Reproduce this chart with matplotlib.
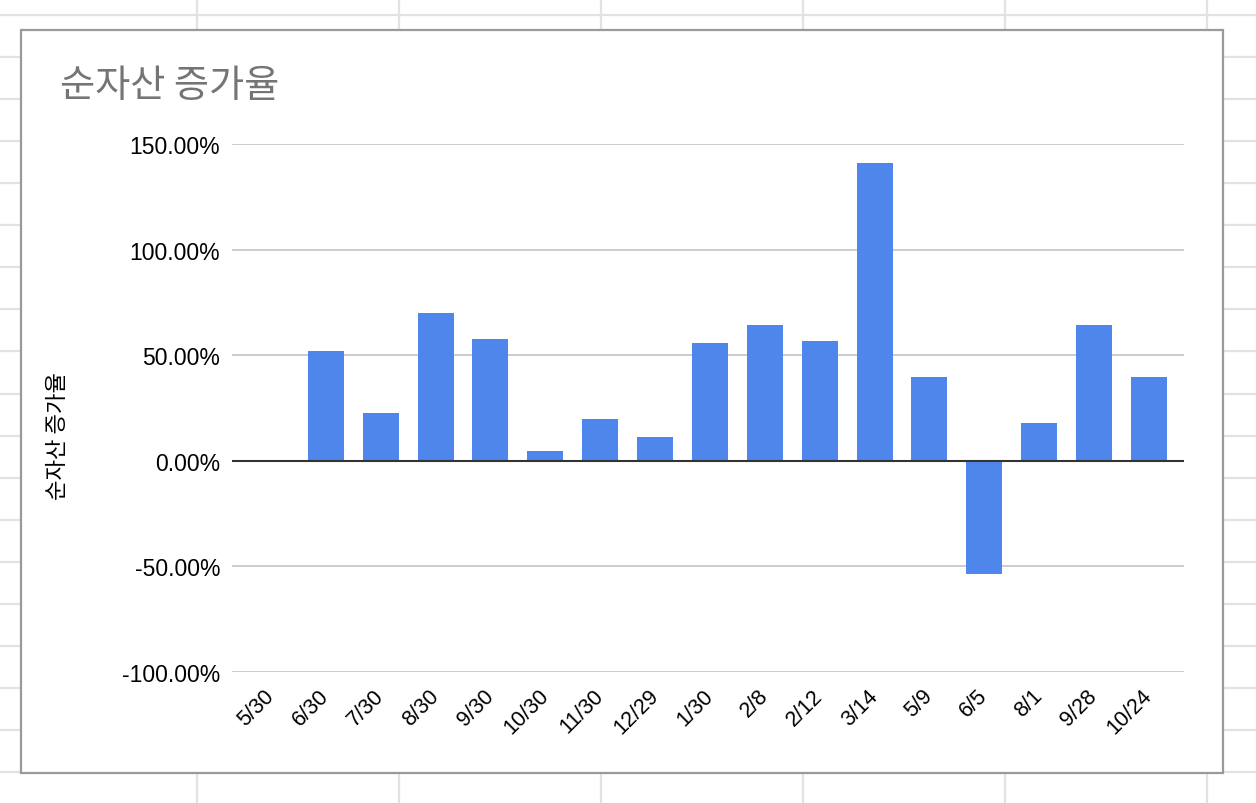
import numpy as np
import matplotlib
matplotlib.use("Agg")
import matplotlib.pyplot as plt
from matplotlib.lines import Line2D
from matplotlib.patches import Rectangle
from matplotlib.transforms import ScaledTranslation

# -------------------------
# Data
# -------------------------
dates = ["5/30", "6/30", "7/30", "8/30", "9/30", "10/30", "11/30", "12/29",
         "1/30", "2/8", "2/12", "3/14", "5/9", "6/5", "8/1", "9/28", "10/24"]
growth = [0.0, 52.1, 22.7, 70.0, 57.7, 4.7, 19.9, 11.4,
          55.8, 64.4, 56.8, 141.0, 39.8, -53.5, 18.0, 64.4, 39.8]
y_ticks = [-100, -50, 0, 50, 100, 150]

title = "순자산 증가율"

W, H = 1256, 804
plt.rcParams['font.family'] = ['Liberation Sans', 'Noto Sans CJK KR', 'DejaVu Sans']
fig = plt.figure(figsize=(W / 100, H / 100), dpi=100)
fig.patch.set_facecolor("white")

# -------------------------
# spreadsheet cells behind the chart
# -------------------------
for gx in np.arange(197, W, 202):
    fig.add_artist(Line2D([gx / W, gx / W], [0, 1], color="#e2e2e2", lw=1.6, zorder=0))
for gy in np.arange(16, H, 42.06):
    fig.add_artist(Line2D([0, 1], [1 - gy / H, 1 - gy / H], color="#e2e2e2", lw=1.6, zorder=0))

# chart panel
x0, y0, x1, y1 = 21, 31, 1223, 774
fig.add_artist(Rectangle((x0 / W, 1 - y1 / H), (x1 - x0) / W, (y1 - y0) / H,
                         facecolor="white", edgecolor="#9a9a9a", lw=1.6, zorder=1))

fig.text(60 / W, 1 - 86 / H, title, fontsize=27.5, color="#757575",
         family=['Noto Sans CJK KR'], va="center", ha="left", zorder=3)

# -------------------------
# Axes
# -------------------------
ax_l, ax_r, ax_t, ax_b = 232, 1184, 145, 673
ax = fig.add_axes([ax_l / W, 1 - ax_b / H, (ax_r - ax_l) / W, (ax_b - ax_t) / H], zorder=2)
ax.set_facecolor("none")

x = np.arange(len(dates))
ax.bar(x, growth, width=0.655, color="#4f86ec", zorder=3)
ax.axhline(0, color="#333333", lw=1.5, zorder=4)

ax.set_xlim(-0.71, 16.64)
ax.set_ylim(-100, 150)
ax.set_yticks(y_ticks)
ax.set_yticklabels([f"{v:.2f}%" for v in y_ticks], fontsize=16.5)
ax.grid(axis="y", color="#cccccc", lw=1.4, zorder=0)
ax.set_axisbelow(True)

ax.set_xticks(x)
ax.set_xticklabels(dates, fontsize=15.5, rotation=45, ha="right", va="center",
                   rotation_mode="anchor")
offset = ScaledTranslation(10 / 100, 0, fig.dpi_scale_trans)
for lbl in ax.get_xticklabels():
    lbl.set_transform(lbl.get_transform() + offset)

ax.tick_params(axis="x", length=0, pad=14.5)
ax.tick_params(axis="y", length=0, pad=8.5)
for s in ax.spines.values():
    s.set_visible(False)

ax.set_ylabel(title, fontsize=16, family=['Noto Sans CJK KR'])
ax.yaxis.set_label_coords((69 - ax_l) / (ax_r - ax_l), (ax_b - 436) / (ax_b - ax_t))

fig.savefig("out.png", dpi=100)
